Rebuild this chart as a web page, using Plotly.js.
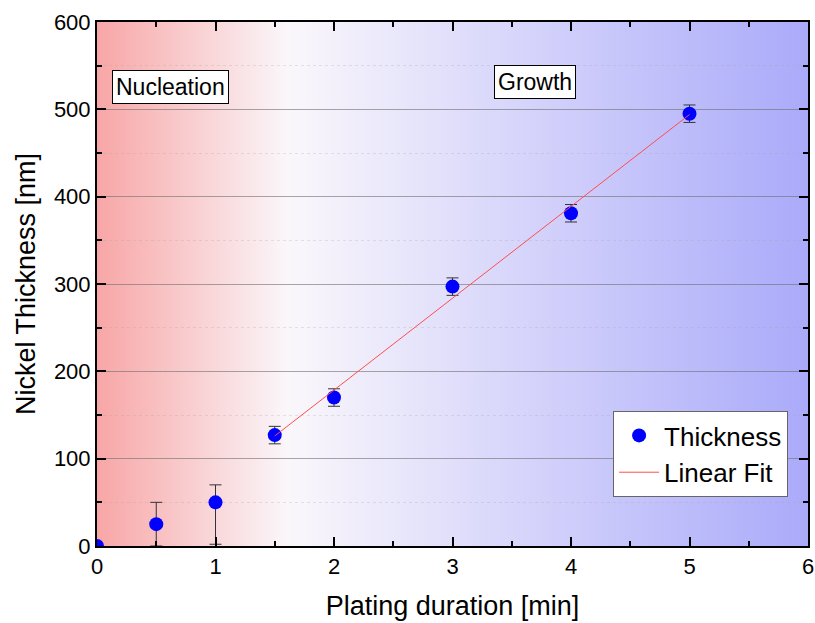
<!DOCTYPE html>
<html>
<head>
<meta charset="utf-8">
<script src="https://cdn.plot.ly/plotly-3.0.1.min.js"></script>
<style>html,body{margin:0;padding:0;background:#fff;}#chart{width:815px;height:623px;}</style>
</head>
<body>
<div id="chart"></div>
<script>
// Data
const duration = [0, 0.5, 1, 1.5, 2, 3, 4, 5];          // min
const thickness = [0, 25, 50, 127, 170, 297, 381, 495];  // nm
const errPlus  = [0, 25, 20, 10, 10, 10, 10, 10];
const errMinus = [0, 25, 48, 10, 10, 10, 10, 10];
const fitX = [1.5, 5];
const fitY = [126, 494];
const regionLabels = ["Nucleation", "Growth"];
const regionX = [0.62, 3.70];
const regionY = [526, 531];

const svg = "<svg xmlns='http://www.w3.org/2000/svg' width='200' height='100' preserveAspectRatio='none'>" +
  "<defs><linearGradient id='g' x1='0' y1='0' x2='1' y2='0'>" +
  "<stop offset='0' stop-color='rgb(248,166,166)'/>" +
  "<stop offset='0.27' stop-color='rgb(250,247,251)'/>" +
  "<stop offset='1' stop-color='rgb(170,170,250)'/>" +
  "</linearGradient></defs><rect width='200' height='100' fill='url(#g)'/></svg>";
const bgSrc = "data:image/svg+xml;charset=utf-8," + encodeURIComponent(svg);

const FONT = 'Liberation Sans, Arial, sans-serif';

const traces = [
  {
    x: duration, y: thickness, type: 'scatter', mode: 'markers', name: 'Thickness',
    marker: {color: '#0000ff', size: 14},
    error_y: {type: 'data', symmetric: false, array: errPlus, arrayminus: errMinus,
              color: '#333333', thickness: 1, width: 6}
  },
  {
    x: fitX, y: fitY, type: 'scatter', mode: 'lines', name: 'Linear Fit',
    line: {color: '#ff4d4d', width: 1}
  }
];

const axisCommon = {
  showline: true, linecolor: '#000', linewidth: 2, mirror: 'ticks',
  ticks: 'inside', ticklen: 9, tickwidth: 2, tickcolor: '#000',
  tickfont: {family: FONT, size: 22, color: '#000'},
  zeroline: false
};

const layout = {
  width: 815, height: 623,
  margin: {l: 97, r: 7, t: 22, b: 77},
  paper_bgcolor: '#fff', plot_bgcolor: '#fff',
  font: {family: FONT, color: '#000'},
  showlegend: true,
  xaxis: Object.assign({}, axisCommon, {
    range: [0, 6], dtick: 1, showgrid: false,
    minor: {dtick: 0.5, ticks: 'inside', ticklen: 5, tickwidth: 2, tickcolor: '#000', showgrid: false},
    title: {text: 'Plating duration [min]', font: {size: 27, family: FONT}, standoff: 18}
  }),
  yaxis: Object.assign({}, axisCommon, {
    range: [0, 600], dtick: 100, showgrid: true, gridcolor: 'rgba(110,110,110,0.6)', gridwidth: 1,
    minor: {dtick: 50, ticks: 'inside', ticklen: 5, tickwidth: 2, tickcolor: '#000',
            showgrid: true, gridcolor: 'rgba(160,160,160,0.25)', griddash: 'dot', gridwidth: 1},
    title: {text: 'Nickel Thickness [nm]', font: {size: 27, family: FONT}, standoff: 10}
  }),
  legend: {
    x: 0.972, y: 0.0935, xanchor: 'right', yanchor: 'bottom',
    bgcolor: '#fff', bordercolor: '#666', borderwidth: 1,
    font: {size: 26, family: FONT},
    tracegroupgap: 0, itemwidth: 40
  },
  images: [{
    source: bgSrc, xref: 'x', yref: 'y', x: 0, y: 600, sizex: 6, sizey: 600,
    sizing: 'stretch', layer: 'below', xanchor: 'left', yanchor: 'top'
  }],
  annotations: regionLabels.map((t, i) => ({
    text: t, x: regionX[i], y: regionY[i], xref: 'x', yref: 'y',
    showarrow: false, xanchor: 'center', yanchor: 'middle',
    font: {size: 23, family: FONT, color: '#000'},
    bgcolor: '#fff', bordercolor: '#000', borderwidth: 1, borderpad: 3
  }))
};

Plotly.newPlot('chart', traces, layout, {displayModeBar: false, staticPlot: true});
</script>
</body>
</html>
